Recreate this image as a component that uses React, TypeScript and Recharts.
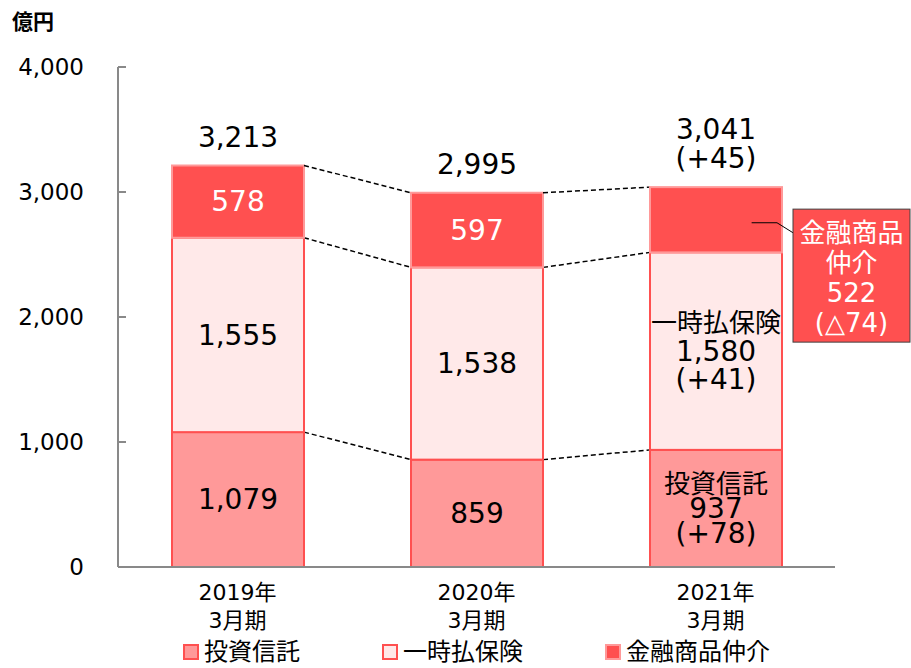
import React from "react";
import { BarChart, Bar, XAxis, YAxis, LabelList } from "recharts";

// chart data
const categories = ["2019年", "2020年", "2021年"];
const periodLabels = ["3月期", "3月期", "3月期"];
const seriesNames = ["投資信託", "一時払保険", "金融商品仲介"];
const investTrust = [1079, 859, 937];
const insurance = [1555, 1538, 1580];
const brokerage = [578, 597, 522];
const totalLabels = ["3,213", "2,995", "3,041"];
const totalChange = ["", "", "(+45)"];
const investChange = ["", "", "(+78)"];
const insuranceChange = ["", "", "(+41)"];
const brokerageChange = ["", "", "(△74)"];
const yTicks = [0, 1000, 2000, 3000, 4000];

const W = 911;
const H = 668;
const M = { top: 67, right: 76, bottom: 40, left: 0 };
const Y_AXIS_W = 118;
const X_AXIS_H = 61;
const STEP = (W - M.left - M.right - Y_AXIS_W) / categories.length;
const FONT = '"DejaVu Sans", "Noto Sans CJK JP", sans-serif';

const colors = {
  invest: { fill: "#FF9999", stroke: "#FF5050" },
  insurance: { fill: "#FFE9E9", stroke: "#FF5050" },
  brokerage: { fill: "#FF5050", stroke: "#FF9999" },
};

const stacks = [investTrust, insurance, brokerage];

const data = categories.map((c, i) => ({
  name: c,
  invest: investTrust[i],
  insurance: insurance[i],
  brokerage: brokerage[i],
}));

const fmt = (v: number) => v.toLocaleString("en-US");

// bar rect + dashed connector to the same level of the next bar
const makeShape = (k: number, fill: string, stroke: string) => (props: any) => {
  const { x, y, width, height, index } = props;
  const v = stacks[k][index];
  const ppu = height / v;
  const below = stacks.slice(0, k).reduce((s, a) => s + a[index], 0);
  const base = y + height + below * ppu;
  let conn = null;
  if (index < categories.length - 1) {
    const nextTop = stacks.slice(0, k + 1).reduce((s, a) => s + a[index + 1], 0);
    conn = (
      <line
        x1={x + width}
        y1={y}
        x2={x + STEP}
        y2={base - nextTop * ppu}
        stroke="#000"
        strokeWidth={1.5}
        strokeDasharray="5 3"
      />
    );
  }
  return (
    <g>
      <rect x={x} y={y} width={width} height={height} fill={fill} stroke={stroke} strokeWidth={2} />
      {conn}
    </g>
  );
};

const vbOf = (p: any) => p.viewBox ?? p;

const makeInnerLabel = (k: number, changes: string[], lineGap: number) => (props: any) => {
  const { x, y, width, height } = vbOf(props);
  const i = props.index;
  const cx = x + width / 2;
  const cy = y + height / 2;
  const lines = changes[i]
    ? [seriesNames[k], fmt(stacks[k][i]), changes[i]]
    : [fmt(stacks[k][i])];
  const start = cy - ((lines.length - 1) * lineGap) / 2;
  return (
    <text textAnchor="middle" fontFamily={FONT} fontSize={28} fill="#000">
      {lines.map((l, j) => (
        <tspan key={j} x={cx} y={start + j * lineGap} dy="0.35em" fontSize={j === 0 && changes[i] ? 26 : 28}>
          {l}
        </tspan>
      ))}
    </text>
  );
};

// top segment: value inside (or callout), totals above
const BrokerageLabel = (props: any) => {
  const { x, y, width, height } = vbOf(props);
  const i = props.index;
  const cx = x + width / 2;
  const cy = y + height / 2;
  const totalLines = totalChange[i] ? [totalLabels[i], totalChange[i]] : [totalLabels[i]];
  const totals = (
    <text textAnchor="middle" fontFamily={FONT} fontSize={28} fill="#000">
      {totalLines.map((l, j) => (
        <tspan key={j} x={cx} y={y - 19 - (totalLines.length - 1 - j) * 29}>
          {l}
        </tspan>
      ))}
    </text>
  );
  if (!brokerageChange[i]) {
    return (
      <g>
        {totals}
        <text x={cx} y={cy} dy="0.35em" textAnchor="middle" fontFamily={FONT} fontSize={28} fill="#fff">
          {fmt(brokerage[i])}
        </text>
      </g>
    );
  }
  const bx = x + width + 11;
  const by = y + 22;
  const bw = 117;
  const bh = 133;
  const lines = ["金融商品", "仲介", fmt(brokerage[i]), brokerageChange[i]];
  return (
    <g>
      {totals}
      <polyline
        points={`${x + width * 0.77},${cy + 3} ${x + width - 5},${cy + 3} ${bx},${cy + 13}`}
        fill="none"
        stroke="#000"
        strokeWidth={1}
      />
      <rect x={bx} y={by} width={bw} height={bh} fill={colors.brokerage.fill} stroke="#404040" strokeWidth={1} />
      <text textAnchor="middle" fontFamily={FONT} fontSize={26} fill="#fff">
        {lines.map((l, j) => (
          <tspan key={j} x={bx + bw / 2} y={by + 24 + j * 30} dy="0.35em">
            {l}
          </tspan>
        ))}
      </text>
    </g>
  );
};

const CategoryTick = (props: any) => {
  const { x, y, payload } = props;
  const i = categories.indexOf(payload.value);
  return (
    <text textAnchor="middle" fontFamily={FONT} fontSize={22} fill="#000">
      <tspan x={x} y={y + 33}>{categories[i]}</tspan>
      <tspan x={x} y={y + 61}>{periodLabels[i]}</tspan>
    </text>
  );
};

const legendItems = [
  { name: seriesNames[0], ...colors.invest },
  { name: seriesNames[1], ...colors.insurance },
  { name: seriesNames[2], ...colors.brokerage },
];

export default function App() {
  return (
    <div style={{ position: "absolute", left: 0, top: 0, width: W, height: H, overflow: "hidden", background: "#fff", fontFamily: FONT }}>
      <div style={{ position: "absolute", left: 12, top: 12, fontSize: 21, fontWeight: "bold", lineHeight: 1 }}>億円</div>
      <BarChart width={W} height={H} data={data} margin={M} barSize={132}>
        <YAxis
          width={Y_AXIS_W}
          domain={[0, 4000]}
          ticks={yTicks}
          tickFormatter={(v: number) => fmt(v)}
          axisLine={{ stroke: "#898989", strokeWidth: 2 }}
          tickLine={{ stroke: "#898989", strokeWidth: 2 }}
          tickSize={-8}
          tickMargin={42}
          tick={{ fill: "#000", fontSize: 23, fontFamily: FONT }}
        />
        <XAxis
          dataKey="name"
          height={X_AXIS_H}
          axisLine={{ stroke: "#898989", strokeWidth: 2 }}
          tickLine={false}
          tickSize={0}
          tickMargin={0}
          tick={<CategoryTick />}
        />
        <Bar dataKey="invest" stackId="a" isAnimationActive={false} shape={makeShape(0, colors.invest.fill, colors.invest.stroke)}>
          <LabelList dataKey="invest" content={makeInnerLabel(0, investChange, 25)} />
        </Bar>
        <Bar dataKey="insurance" stackId="a" isAnimationActive={false} shape={makeShape(1, colors.insurance.fill, colors.insurance.stroke)}>
          <LabelList dataKey="insurance" content={makeInnerLabel(1, insuranceChange, 28)} />
        </Bar>
        <Bar dataKey="brokerage" stackId="a" isAnimationActive={false} shape={makeShape(2, colors.brokerage.fill, colors.brokerage.stroke)}>
          <LabelList dataKey="brokerage" content={BrokerageLabel} />
        </Bar>
      </BarChart>
      <div style={{ position: "absolute", left: Y_AXIS_W, width: W - M.right - Y_AXIS_W, top: 637, display: "flex", justifyContent: "center", gap: 82, fontSize: 24, lineHeight: "30px" }}>
        {legendItems.map((it) => (
          <div key={it.name} style={{ display: "flex", alignItems: "center", gap: 5 }}>
            <span style={{ display: "inline-block", width: 12, height: 12, background: it.fill, border: `2px solid ${it.stroke}` }} />
            <span>{it.name}</span>
          </div>
        ))}
      </div>
    </div>
  );
}
